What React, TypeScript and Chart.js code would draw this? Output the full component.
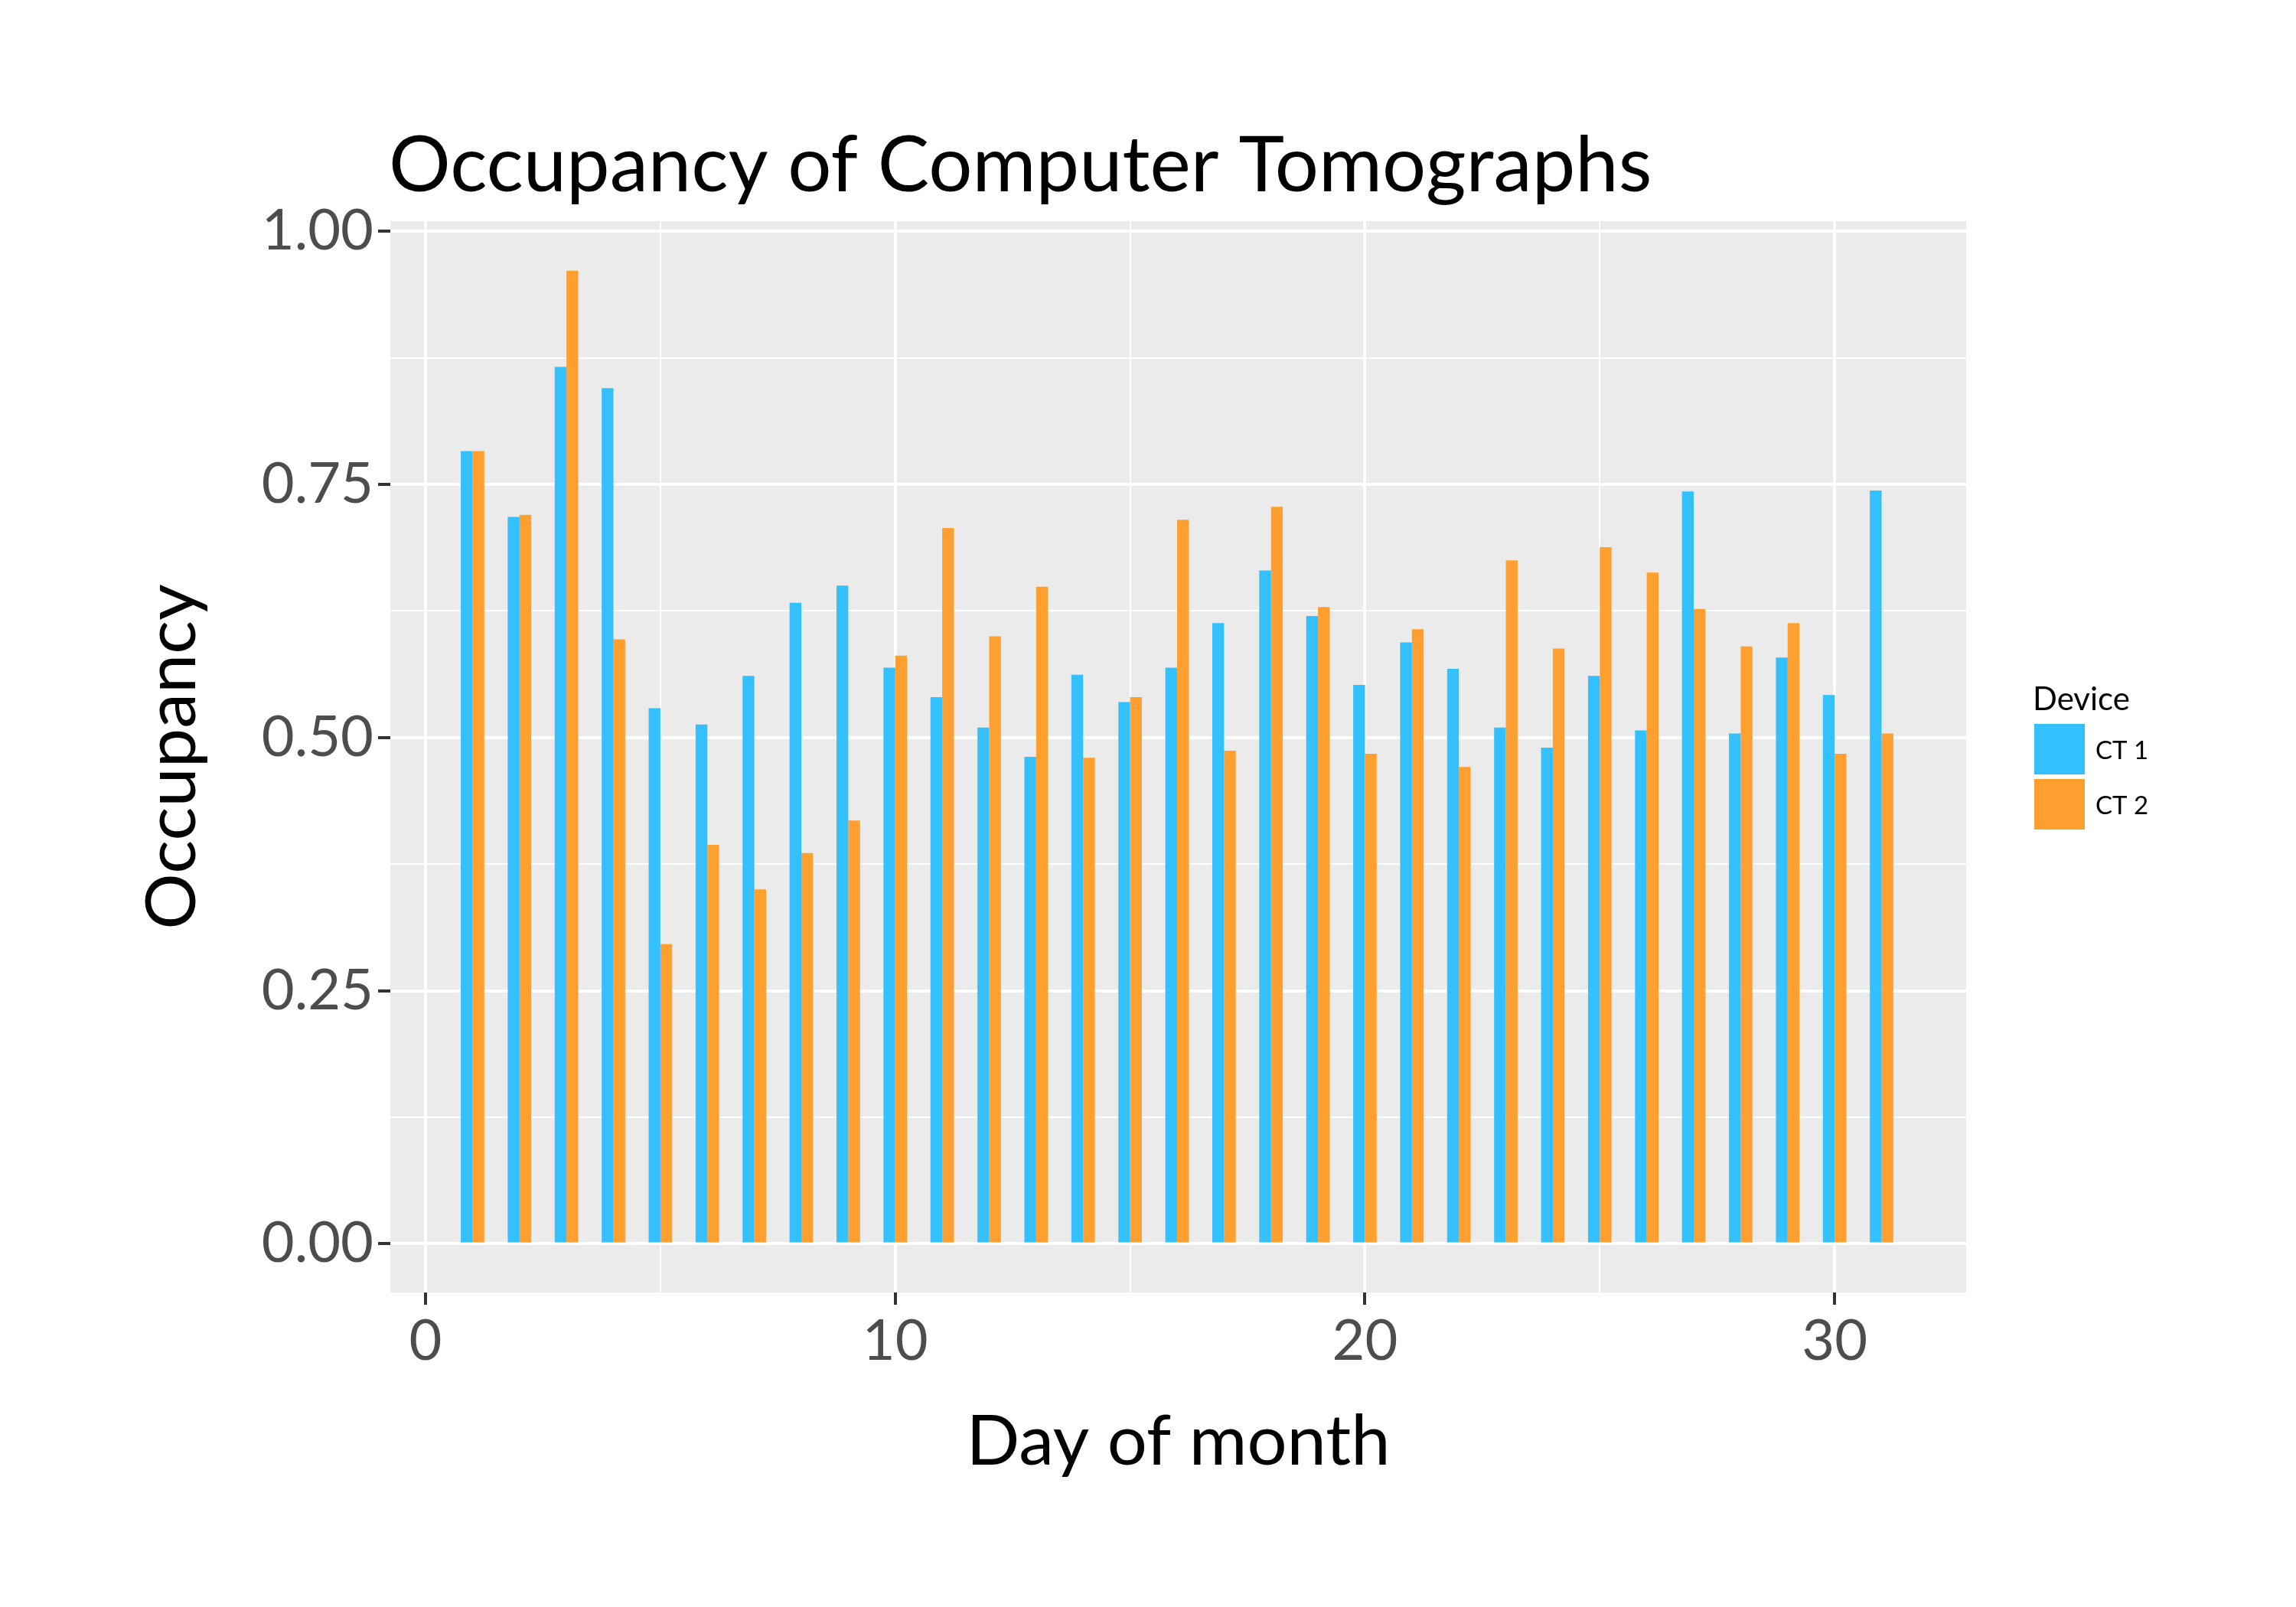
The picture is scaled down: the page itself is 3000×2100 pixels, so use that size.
import { useEffect, useRef } from "react";
import { Chart, registerables } from "chart.js";

Chart.register(...registerables);

const days = Array.from({ length: 31 }, (_, i) => i + 1);
const ct1 = [
  0.783, 0.718, 0.866, 0.845, 0.529, 0.513, 0.561, 0.633, 0.65, 0.569, 0.54,
  0.51, 0.481, 0.562, 0.535, 0.569, 0.613, 0.665, 0.62, 0.552, 0.594, 0.568,
  0.51, 0.49, 0.561, 0.507, 0.743, 0.504, 0.579, 0.542, 0.744,
];
const ct2 = [
  0.783, 0.72, 0.961, 0.597, 0.296, 0.394, 0.35, 0.386, 0.418, 0.581, 0.707,
  0.6, 0.649, 0.48, 0.54, 0.715, 0.487, 0.728, 0.629, 0.484, 0.607, 0.471,
  0.675, 0.588, 0.688, 0.663, 0.627, 0.59, 0.613, 0.484, 0.504,
];
const yTicks = [0, 0.125, 0.25, 0.375, 0.5, 0.625, 0.75, 0.875, 1];
const xTicks = [0, 5, 10, 15, 20, 25, 30];
const seriesNames = ["CT 1", "CT 2"];
const colors = ["#33C0FC", "#FF9F30"];
const FONT = "Lato, 'Open Sans', 'Noto Sans', sans-serif";

export default function App() {
  const canvasRef = useRef<HTMLCanvasElement>(null);

  useEffect(() => {
    if (!canvasRef.current) return;
    const decor = {
      id: "decor",
      beforeDraw(chart: any) {
        const { ctx, chartArea: a } = chart;
        ctx.save();
        ctx.fillStyle = "#EBEBEB";
        ctx.fillRect(a.left, a.top, a.right - a.left, a.bottom - a.top);
        ctx.restore();
      },
      afterDraw(chart: any) {
        const { ctx } = chart;
        ctx.save();
        ctx.fillStyle = "#000";
        ctx.font = `101px ${FONT}`;
        ctx.textBaseline = "alphabetic";
        ctx.fillText("Occupancy of Computer Tomographs", 508, 250);
        ctx.font = `42px ${FONT}`;
        ctx.fillText("Device", 2656, 928);
        seriesNames.forEach((n, i) => {
          const y = 946 + i * 72;
          ctx.fillStyle = colors[i];
          ctx.fillRect(2658, y, 66, 66);
          ctx.fillStyle = "#000";
          ctx.font = `33px ${FONT}`;
          ctx.textBaseline = "middle";
          ctx.fillText(n, 2738, y + 35);
        });
        ctx.restore();
      },
    };
    const chart = new Chart(canvasRef.current, {
      type: "bar",
      data: {
        datasets: [ct1, ct2].map((vals, i) => ({
          label: seriesNames[i],
          data: days.map((d, j) => ({ x: d, y: vals[j] })),
          backgroundColor: colors[i],
          barPercentage: 1,
          categoryPercentage: 0.5,
        })),
      },
      options: {
        animation: false,
        responsive: false,
        layout: { padding: { left: 150, right: 431, top: 289, bottom: 100 } },
        plugins: { legend: { display: false }, tooltip: { enabled: false } },
        scales: {
          x: {
            type: "linear",
            offset: false,
            min: -0.75,
            max: 32.8,
            afterFit: (s: any) => { s.height = 311; },
            afterBuildTicks: (s: any) => { s.ticks = xTicks.map((v) => ({ value: v })); },
            grid: {
              offset: false,
              color: "#FFFFFF",
              lineWidth: (c: any) => (c.tick && c.tick.value % 10 === 0 ? 4 : 2),
              tickColor: (c: any) => (c.tick && c.tick.value % 10 === 0 ? "#333333" : "rgba(0,0,0,0)"),
              tickLength: 16,
            },
            border: { display: false },
            ticks: {
              color: "#4D4D4D",
              font: { size: 74, family: FONT },
              padding: 4,
              maxRotation: 0,
              autoSkip: false,
              callback: (v: any) => (Number(v) % 10 === 0 ? String(v) : ""),
            },
            title: {
              display: true,
              text: "Day of month",
              color: "#000",
              font: { size: 92, family: FONT },
              padding: { top: 0, bottom: 60 },
            },
          },
          y: {
            min: -0.048,
            max: 1.01,
            afterFit: (s: any) => { s.width = 360; },
            afterBuildTicks: (s: any) => { s.ticks = yTicks.map((v) => ({ value: v })); },
            grid: {
              color: "#FFFFFF",
              lineWidth: (c: any) => (c.tick && (c.tick.value * 4) % 1 === 0 ? 4 : 2),
              tickColor: (c: any) => (c.tick && (c.tick.value * 4) % 1 === 0 ? "#333333" : "rgba(0,0,0,0)"),
              tickLength: 16,
            },
            border: { display: false },
            ticks: {
              color: "#4D4D4D",
              font: { size: 74, family: FONT },
              padding: 6,
              autoSkip: false,
              callback: (v: any) => ((Number(v) * 4) % 1 === 0 ? Number(v).toFixed(2) : ""),
            },
            title: {
              display: true,
              text: "Occupancy",
              color: "#000",
              font: { size: 92, family: FONT },
              padding: { top: 20, bottom: 0 },
            },
          },
        },
      },
      plugins: [decor],
    });
    return () => chart.destroy();
  }, []);

  return (
    <div style={{ width: 3000, height: 2100, background: "#fff", margin: -8 }}>
      <canvas ref={canvasRef} width={3000} height={2100} style={{ display: "block" }} />
    </div>
  );
}
